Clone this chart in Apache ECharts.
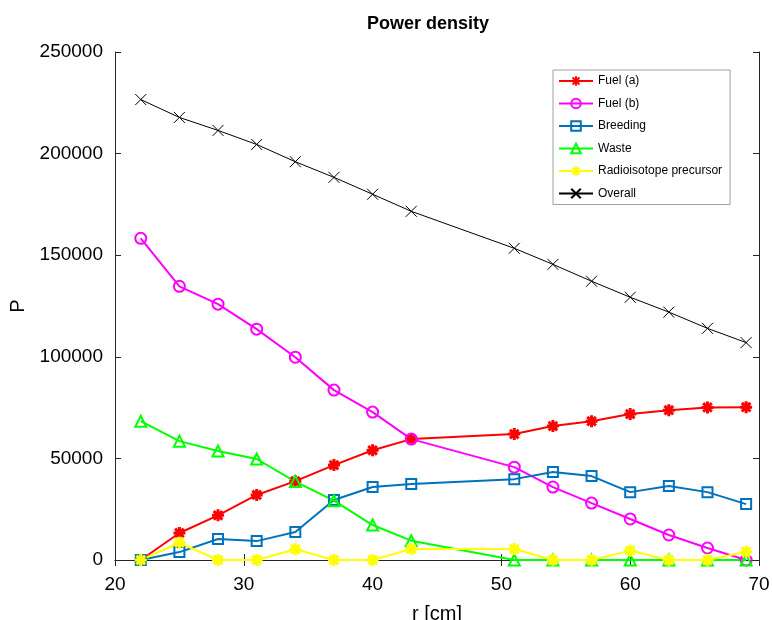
<!DOCTYPE html>
<html>
<head>
<meta charset="utf-8">
<script src="https://cdn.jsdelivr.net/npm/echarts@6/dist/echarts.min.js"></script>
<style>
  html, body { margin: 0; padding: 0; background: #fff; }
  #chart { width: 772px; height: 620px; }
</style>
</head>
<body>
<div id="chart"></div>
<script>
  // r [cm] positions
  const radius = [22, 25, 28, 31, 34, 37, 40, 43, 51, 54, 57, 60, 63, 66, 69];

  // power density per zone
  const fuelA = [0, 13300, 22000, 32000, 38800, 46700, 54000, 59500, 62000, 65900, 68300, 71800, 73700, 75100, 75200];
  const fuelB = [158300, 134700, 125900, 113600, 99800, 83600, 72800, 59500, 45700, 35900, 28000, 20200, 12300, 5900, 0];
  const breeding = [0, 3900, 10300, 9300, 13800, 29500, 35900, 37400, 39800, 43300, 41300, 33400, 36400, 33400, 27500];
  const waste = [68300, 58500, 53600, 49700, 38600, 29200, 17200, 9500, 0, 0, 0, 0, 0, 0, 0];
  const radioPrecursor = [0, 8500, 0, 0, 5300, 0, 0, 5400, 5400, 0, 0, 4600, 0, 0, 4100];
  const overall = [226600, 217800, 211400, 204500, 196000, 188300, 180000, 171600, 153400, 145500, 137200, 129300, 122000, 114000, 107000];

  const xTicks = [20, 70, 10];       // min, max, step
  const yTicks = [0, 250000, 50000]; // min, max, step

  const pair = (ys) => radius.map((x, i) => [x, ys[i]]);

  const FONT = '"Liberation Sans", Arial, Helvetica, sans-serif';
  const AXIS_COLOR = '#262626';
  const ASTERISK = 'path://M0,-5L0,5M-5,0L5,0M-3.6,-3.6L3.6,3.6M-3.6,3.6L3.6,-3.6';
  const CROSS = 'path://M-5,-5L5,5M-5,5L5,-5';
  const TRIANGLE = 'path://M0,-5L5,4L-5,4Z';

  function makeSeries(name, ys, color, symbol, size, width, markWidth) {
    return {
      name: name,
      type: 'line',
      data: pair(ys),
      symbol: symbol,
      symbolSize: size,
      showAllSymbol: true,
      lineStyle: { color: color, width: width },
      itemStyle: { color: 'rgba(0,0,0,0)', borderColor: color, borderWidth: markWidth || width },
      emphasis: { disabled: true },
      z: 3
    };
  }

  const chart = echarts.init(document.getElementById('chart'));

  const plainAxis = {
    axisLine: { show: true, lineStyle: { color: AXIS_COLOR, width: 1 } },
    axisTick: { show: true, inside: true, length: 6, lineStyle: { color: AXIS_COLOR } },
    splitLine: { show: false }
  };

  const option = {
    backgroundColor: '#fff',
    animation: false,
    title: {
      text: 'Power density',
      left: 362,
      top: 10,
      textStyle: { fontFamily: FONT, fontSize: 18, fontWeight: 'bold', color: '#000' }
    },
    grid: { left: 115, right: 13, top: 52, bottom: 60, containLabel: false, outerBoundsMode: 'none' },
    legend: {
      orient: 'vertical',
      left: 553,
      top: 70,
      width: 188,
      padding: [5, 8, 5, 5],
      itemWidth: 34,
      itemHeight: 12,
      itemGap: 10.5,
      backgroundColor: '#fff',
      borderColor: '#a0a0a0',
      borderWidth: 1,
      textStyle: { fontFamily: FONT, fontSize: 12, color: '#000', padding: [0, 0, 0, 0] },
      data: ['Fuel (a)', 'Fuel (b)', 'Breeding', 'Waste', 'Radioisotope precursor', 'Overall']
    },
    xAxis: [
      Object.assign({}, plainAxis, {
        type: 'value',
        position: 'bottom',
        min: xTicks[0], max: xTicks[1], interval: xTicks[2],
        name: 'r [cm]',
        nameLocation: 'middle',
        nameGap: 44,
        nameTextStyle: { fontFamily: FONT, fontSize: 20, color: '#000' },
        axisLabel: { fontFamily: FONT, fontSize: 19, color: '#000', margin: 15 }
      }),
      Object.assign({}, plainAxis, {
        type: 'value',
        position: 'top',
        min: xTicks[0], max: xTicks[1], interval: xTicks[2],
        axisLabel: { show: false }
      })
    ],
    yAxis: [
      Object.assign({}, plainAxis, {
        type: 'value',
        position: 'left',
        min: yTicks[0], max: yTicks[1], interval: yTicks[2],
        name: 'P',
        nameLocation: 'middle',
        nameGap: 84,
        nameTextStyle: { fontFamily: FONT, fontSize: 20, color: '#000' },
        axisLabel: { fontFamily: FONT, fontSize: 19, color: '#000', margin: 12, formatter: (v) => String(v) }
      }),
      Object.assign({}, plainAxis, {
        type: 'value',
        position: 'right',
        min: yTicks[0], max: yTicks[1], interval: yTicks[2],
        axisLabel: { show: false }
      })
    ],
    series: [
      makeSeries('Fuel (a)', fuelA, '#ff0000', ASTERISK, 12, 2, 3),
      makeSeries('Fuel (b)', fuelB, '#ff00ff', 'circle', 11, 2),
      makeSeries('Breeding', breeding, '#0072bd', 'rect', 10, 2),
      makeSeries('Waste', waste, '#00ff00', TRIANGLE, 11, 2),
      makeSeries('Radioisotope precursor', radioPrecursor, '#ffff00', ASTERISK, 12, 2, 3),
      makeSeries('Overall', overall, '#000000', CROSS, 11, 1)
    ]
  };

  chart.setOption(option);
</script>
</body>
</html>
